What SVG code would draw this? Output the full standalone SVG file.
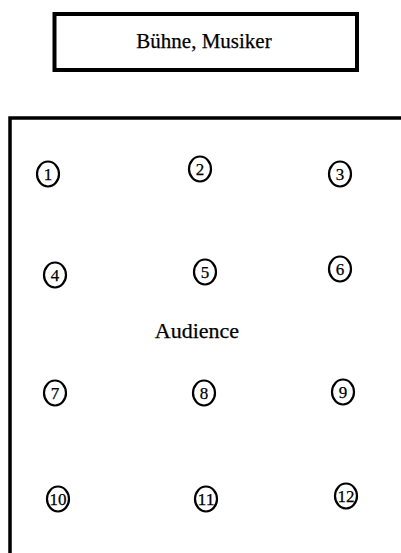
<svg xmlns="http://www.w3.org/2000/svg" width="401" height="553" viewBox="0 0 401 553">
<style>
text{font-family:"Times New Roman","Liberation Serif","DejaVu Serif",serif;fill:#000;stroke:#000;stroke-width:0.25}
.seat ellipse{fill:none;stroke:#000;stroke-width:2.2}
.seat text{font-size:17px;text-anchor:middle}
</style>
<rect width="401" height="553" fill="#fff"/>
<g id="stage">
<rect x="54.5" y="14" width="302.5" height="56" fill="#fff" stroke="#000" stroke-width="4"/>
<text x="204" y="48" font-size="21" text-anchor="middle">Bühne, Musiker</text>
</g>
<g id="hall">
<path d="M10 553 V118 H401" fill="none" stroke="#000" stroke-width="3.5"/>
<text x="197" y="338" font-size="22" text-anchor="middle">Audience</text>
</g>
<g id="seat1" class="seat"><ellipse cx="48" cy="174" rx="11" ry="12.5"/><text x="48" y="180">1</text></g>
<g id="seat2" class="seat"><ellipse cx="200" cy="169" rx="11" ry="12.5"/><text x="200" y="175">2</text></g>
<g id="seat3" class="seat"><ellipse cx="340" cy="174" rx="11" ry="12.5"/><text x="340" y="180">3</text></g>
<g id="seat4" class="seat"><ellipse cx="55" cy="275" rx="11" ry="12.5"/><text x="55" y="281">4</text></g>
<g id="seat5" class="seat"><ellipse cx="205" cy="272" rx="11" ry="12.5"/><text x="205" y="278">5</text></g>
<g id="seat6" class="seat"><ellipse cx="340" cy="269" rx="11" ry="12.5"/><text x="340" y="275">6</text></g>
<g id="seat7" class="seat"><ellipse cx="55" cy="393" rx="11" ry="12.5"/><text x="55" y="399">7</text></g>
<g id="seat8" class="seat"><ellipse cx="204" cy="393" rx="11" ry="12.5"/><text x="204" y="399">8</text></g>
<g id="seat9" class="seat"><ellipse cx="343" cy="392" rx="11" ry="12.5"/><text x="343" y="398">9</text></g>
<g id="seat10" class="seat"><ellipse cx="58" cy="499" rx="11" ry="12.5"/><text x="58" y="505" textLength="17" lengthAdjust="spacingAndGlyphs">10</text></g>
<g id="seat11" class="seat"><ellipse cx="206" cy="499" rx="11" ry="12.5"/><text x="206" y="505" textLength="17" lengthAdjust="spacingAndGlyphs">11</text></g>
<g id="seat12" class="seat"><ellipse cx="346" cy="496" rx="11" ry="12.5"/><text x="346" y="502" textLength="17" lengthAdjust="spacingAndGlyphs">12</text></g>
</svg>
